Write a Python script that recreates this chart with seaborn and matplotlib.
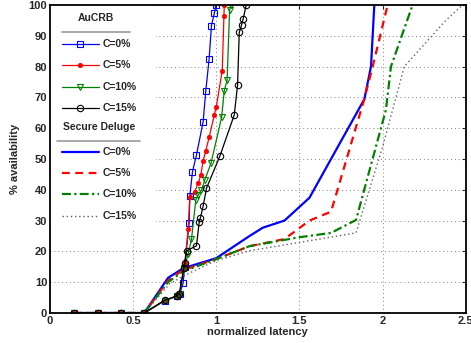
import pandas as pd
import matplotlib
matplotlib.use("Agg")
import matplotlib.pyplot as plt
import seaborn as sns
from matplotlib.lines import Line2D
from matplotlib.patches import Rectangle

# ---------------------------------
# DATA
# ---------------------------------

au_c0_x = [0.144, 0.287, 0.43, 0.567, 0.69, 0.765, 0.78, 0.80, 0.81, 0.837, 0.841,
           0.857, 0.881, 0.921, 0.937, 0.957, 0.971, 0.988, 0.998]
au_c0_y = [0, 0, 0, 0, 4, 5.5, 6.2, 9.6, 15, 29.3, 38, 45.9, 51.3, 62.1, 72.2,
           82.5, 93.3, 97.3, 100]

au_c5_x = [0.144, 0.287, 0.43, 0.567, 0.69, 0.765, 0.78, 0.805, 0.811, 0.831, 0.841,
           0.871, 0.891, 0.907, 0.921, 0.937, 0.957, 0.988, 1.0, 1.036, 1.046, 1.048]
au_c5_y = [0, 0, 0, 0, 4, 5.5, 6.2, 14.5, 16.3, 27.2, 37.8, 39.4, 42.1, 44.8, 49.4,
           52.7, 57, 64.3, 67, 78.7, 96.4, 100]

au_c10_x = [0.144, 0.287, 0.43, 0.567, 0.69, 0.765, 0.78, 0.805, 0.83, 0.851, 0.877,
            0.891, 0.911, 0.931, 0.968, 1.032, 1.048, 1.065, 1.08, 1.09]
au_c10_y = [0, 0, 0, 0, 4, 5.5, 6.2, 14.5, 19, 24, 36.7, 38.3, 39.9, 43.2, 48.6,
            63.5, 72.2, 75.5, 98.4, 100]

au_c15_x = [0.144, 0.287, 0.43, 0.567, 0.691, 0.761, 0.777, 0.805, 0.811, 0.821, 0.881,
            0.897, 0.905, 0.921, 0.941, 1.022, 1.108, 1.128, 1.138, 1.152, 1.162, 1.18]
au_c15_y = [0, 0, 0, 0, 4.2, 5.5, 6.2, 14.5, 16.3, 20.2, 21.8, 29.4, 31, 34.7, 40.5,
            51, 64.3, 74, 91.1, 93.5, 95.6, 100]

sd_c0_x = [0.144, 0.567, 0.71, 0.80, 1.0, 1.20, 1.28, 1.41, 1.56, 1.89, 1.93, 1.95]
sd_c0_y = [0, 0, 11.4, 14.5, 17.8, 25, 27.7, 30, 37.4, 69.4, 80, 100]

sd_c5_x = [0.144, 0.567, 0.71, 0.80, 1.0, 1.20, 1.41, 1.56, 1.69, 1.89, 1.94, 2.03]
sd_c5_y = [0, 0, 10.5, 14, 17.5, 21.7, 24, 30, 32.9, 69.5, 80, 100]

sd_c10_x = [0.144, 0.567, 0.71, 0.80, 1.0, 1.20, 1.50, 1.69, 1.84, 2.02, 2.05, 2.18]
sd_c10_y = [0, 0, 10, 13.5, 17.5, 21.7, 24.6, 26, 30.2, 66, 80, 100]

sd_c15_x = [0.144, 0.567, 0.72, 0.82, 1.0, 1.20, 1.84, 2.0, 2.13, 2.38, 2.48]
sd_c15_y = [0, 0, 9.5, 12.5, 17, 20.2, 26, 54, 80, 95, 100]

labels = ["C=0%", "C=5%", "C=10%", "C=15%"]
x_ticks = [0, 0.5, 1, 1.5, 2, 2.5]
x_tick_labels = ["0", "0.5", "1", "1.5", "2", "2.5"]
y_ticks = list(range(0, 101, 10))

# ---------------------------------
# STYLE
# ---------------------------------

sns.set_style("white")
plt.rcParams["font.family"] = ["Liberation Sans", "DejaVu Sans"]
plt.rcParams["font.weight"] = "bold"

fig = plt.figure(figsize=(4.71, 3.43), dpi=100)
ax = fig.add_axes([0.106, 0.0875, 0.883, 0.898])

au_series = [(au_c0_x, au_c0_y), (au_c5_x, au_c5_y), (au_c10_x, au_c10_y), (au_c15_x, au_c15_y)]
sd_series = [(sd_c0_x, sd_c0_y), (sd_c5_x, sd_c5_y), (sd_c10_x, sd_c10_y), (sd_c15_x, sd_c15_y)]

au_colors = ["#0000ff", "#ff0000", "#008000", "#000000"]
au_markers = [
    dict(marker="s", markersize=4, markerfacecolor="none", markeredgewidth=0.8),
    dict(marker="o", markersize=3.2, markerfacecolor="#ff0000", markeredgewidth=0.5),
    dict(marker="v", markersize=4.8, markerfacecolor="none", markeredgewidth=0.8),
    dict(marker="o", markersize=4.6, markerfacecolor="none", markeredgewidth=0.8),
]
sd_styles = [
    dict(color="#0000ff", linestyle="-", linewidth=1.6),
    dict(color="#ff0000", linestyle=(0, (3.5, 2.5)), linewidth=1.6),
    dict(color="#008000", linestyle=(0, (4, 1.5, 1, 1.5)), linewidth=1.6),
    dict(color="#606060", linestyle=(0, (1, 2)), linewidth=1.0),
]

# ---------------------------------
# PLOT
# ---------------------------------

for (xs, ys), st in zip(sd_series, sd_styles):
    d = pd.DataFrame({"x": xs, "y": ys})
    sns.lineplot(data=d, x="x", y="y", sort=False, estimator=None, ax=ax, **st)

for (xs, ys), col, mk in zip(au_series, au_colors, au_markers):
    d = pd.DataFrame({"x": xs, "y": ys})
    sns.lineplot(data=d, x="x", y="y", sort=False, estimator=None, ax=ax,
                 color=col, linewidth=0.9, zorder=3)
    ln = ax.lines[-1]
    ln.set_marker(mk["marker"])
    ln.set_markersize(mk["markersize"])
    ln.set_markerfacecolor(mk["markerfacecolor"])
    ln.set_markeredgecolor(col)
    ln.set_markeredgewidth(mk["markeredgewidth"])

ax.set_xlim(0, 2.5)
ax.set_ylim(0, 100)
ax.set_xticks(x_ticks)
ax.set_xticklabels(x_tick_labels, fontsize=8, fontweight="bold")
ax.set_yticks(y_ticks)
ax.set_yticklabels([str(v) for v in y_ticks], fontsize=8, fontweight="bold")
ax.tick_params(direction="in", length=3, width=0.8, pad=2, top=True, right=True)
ax.grid(True, linestyle=(0, (1, 3)), color="#808080", linewidth=0.7)
for s in ax.spines.values():
    s.set_linewidth(1.3)
    s.set_color("black")
    s.set_zorder(12)

ax.set_xlabel("normalized latency", fontsize=8, fontweight="bold", labelpad=1)
ax.set_ylabel("% availability", fontsize=8, fontweight="bold", labelpad=6)

# ---------------------------------
# LEGEND (drawn by hand, MATLAB style with group headers)
# ---------------------------------

ax.add_patch(Rectangle((0, 0.269), 0.255, 0.731, transform=ax.transAxes,
                       facecolor="white", edgecolor="none", zorder=8))

au_rows = [0.873, 0.805, 0.734, 0.666]
sd_rows = [0.523, 0.455, 0.386, 0.315]
hx0, hx1, tx = 0.029, 0.118, 0.127

ax.text(0.111, 0.958, "AuCRB", transform=ax.transAxes, ha="center", va="center",
        fontsize=7.5, fontweight="bold", zorder=9)
ax.text(0.118, 0.604, "Secure Deluge", transform=ax.transAxes, ha="center", va="center",
        fontsize=7.5, fontweight="bold", zorder=9)
ax.add_line(Line2D([0.029, 0.192], [0.913, 0.913], transform=ax.transAxes,
                   color="#999999", linewidth=1.2, zorder=9, clip_on=False))
ax.add_line(Line2D([0.017, 0.216], [0.558, 0.558], transform=ax.transAxes,
                   color="#999999", linewidth=1.2, zorder=9, clip_on=False))

for yy, col, mk, lab in zip(au_rows, au_colors, au_markers, labels):
    ax.add_line(Line2D([hx0, (hx0 + hx1) / 2, hx1], [yy, yy, yy], transform=ax.transAxes,
                       color=col, linewidth=0.9, markevery=[1], markeredgecolor=col,
                       zorder=9, **mk))
    ax.text(tx, yy, lab, transform=ax.transAxes, va="center", fontsize=7.5,
            fontweight="bold", zorder=9)

for yy, st, lab in zip(sd_rows, sd_styles, labels):
    ax.add_line(Line2D([hx0, hx1], [yy, yy], transform=ax.transAxes, zorder=9, **st))
    ax.text(tx, yy, lab, transform=ax.transAxes, va="center", fontsize=7.5,
            fontweight="bold", zorder=9)

plt.savefig("out.png", dpi=100)
